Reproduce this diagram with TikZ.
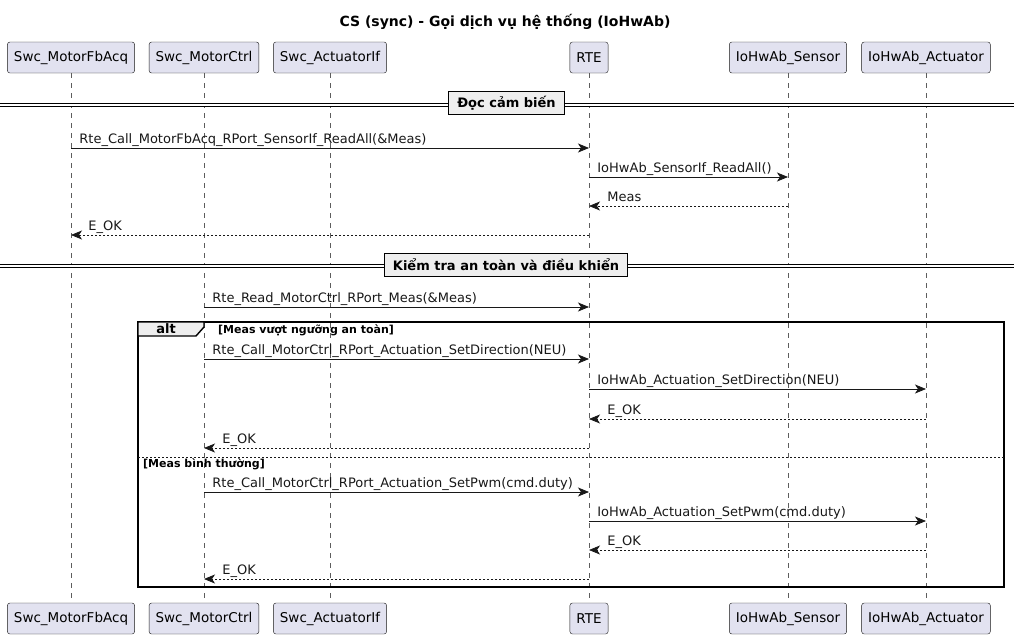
\documentclass[tikz,border=0pt]{standalone}
\usepackage{fontspec}
\setmainfont{DejaVu Sans}
\usetikzlibrary{arrows.meta}
\usetikzlibrary{positioning}

\definecolor{partfill}{HTML}{E2E2F0}
\definecolor{divfill}{HTML}{EEEEEE}
\definecolor{inkline}{HTML}{181818}

\begin{document}
\begin{tikzpicture}[x=1pt, y=-1pt,
  part/.style={rectangle, draw=inkline, fill=partfill, rounded corners=2.5pt, minimum height=31pt, inner xsep=6.5pt, font=\fontsize{13.5}{15}\selectfont},
  life/.style={inkline!70, dash pattern=on 5pt off 5pt, line width=0.6pt},
  msg/.style={inkline, line width=0.8pt, -{Stealth[length=11pt, width=9pt, inset=3pt]}},
  reply/.style={msg, dash pattern=on 2pt off 2pt},
  lbl/.style={font=\fontsize{13}{15}\selectfont, inner sep=0pt, anchor=base west},
  divbox/.style={rectangle, draw=black, line width=1.4pt, fill=divfill, inner xsep=8.5pt, minimum height=23pt, font=\bfseries\fontsize{13}{15}\selectfont},
  divline/.style={black, double, double distance=2.2pt, line width=0.9pt},
  frame/.style={black, line width=1.4pt}]
\useasboundingbox (0,0) rectangle (1020,638);

% title
\node [font=\bfseries\fontsize{14}{16}\selectfont] (title) at (505,22) {CS (sync) - Gọi dịch vụ hệ thống (IoHwAb)};

% participants, top and bottom
\node [part] (fbT) at (71,57.5) {Swc\_MotorFbAcq};
\node [part] (ctT) at (204,57.5) {Swc\_MotorCtrl};
\node [part] (aiT) at (330,57.5) {Swc\_ActuatorIf};
\node [part] (rteT) at (589,57.5) {RTE};
\node [part] (senT) at (788,57.5) {IoHwAb\_Sensor};
\node [part] (actT) at (926,57.5) {IoHwAb\_Actuator};
\node [part] (fbB) at (71,618.5) {Swc\_MotorFbAcq};
\node [part] (ctB) at (204,618.5) {Swc\_MotorCtrl};
\node [part] (aiB) at (330,618.5) {Swc\_ActuatorIf};
\node [part] (rteB) at (589,618.5) {RTE};
\node [part] (senB) at (788,618.5) {IoHwAb\_Sensor};
\node [part] (actB) at (926,618.5) {IoHwAb\_Actuator};

% lifelines
\draw [life] (fbT) -- (fbB);
\draw [life] (ctT) -- (ctB);
\draw [life] (aiT) -- (aiB);
\draw [life] (rteT) -- (rteB);
\draw [life] (senT) -- (senB);
\draw [life] (actT) -- (actB);

% divider 1
\draw [divline] (0,105) -- (1014,105);
\node [divbox] (div1) at (506.5,103) {Đọc cảm biến};

\draw [msg] (fbT |- 0,148) -- (rteT |- 0,148) node [lbl, pos=0, xshift=8pt, yshift=5pt] (m1) {Rte\_Call\_MotorFbAcq\_RPort\_SensorIf\_ReadAll(\&Meas)};
\draw [msg] (rteT |- 0,177) -- (senT |- 0,177) node [lbl, pos=0, xshift=8pt, yshift=5pt] (m2) {IoHwAb\_SensorIf\_ReadAll()};
\draw [reply] (senT |- 0,206) -- (rteT |- 0,206) node [lbl, pos=1, xshift=18pt, yshift=5pt] (m3) {Meas};
\draw [reply] (rteT |- 0,235) -- (fbT |- 0,235) node [lbl, pos=1, xshift=17pt, yshift=5pt] (m4) {E\_OK};

% divider 2
\draw [divline] (0,266) -- (1014,266);
\node [divbox] (div2) at (506,265) {Kiểm tra an toàn và điều khiển};

\draw [msg] (ctT |- 0,307) -- (rteT |- 0,307) node [lbl, pos=0, xshift=8pt, yshift=5pt] (m5) {Rte\_Read\_MotorCtrl\_RPort\_Meas(\&Meas)};

% alt frame
\draw [frame] (138,322) rectangle (1004,587);
\draw [frame, fill=divfill] (138,322) -- (204,322) -- (204,327) -- (196,336) -- (138,336) -- cycle;
\node [font=\bfseries\fontsize{13}{15}\selectfont, inner sep=0pt] (altlbl) at (166,329) {alt};
\node [font=\bfseries\fontsize{11}{13}\selectfont, inner sep=0pt, anchor=west] (g1) at (218,330) {[Meas vượt ngưỡng an toàn]};

\draw [msg] (ctT |- 0,359) -- (rteT |- 0,359) node [lbl, pos=0, xshift=8pt, yshift=5pt] (m6) {Rte\_Call\_MotorCtrl\_RPort\_Actuation\_SetDirection(NEU)};
\draw [msg] (rteT |- 0,389) -- (actT |- 0,389) node [lbl, pos=0, xshift=8pt, yshift=5pt] (m7) {IoHwAb\_Actuation\_SetDirection(NEU)};
\draw [reply] (actT |- 0,419) -- (rteT |- 0,419) node [lbl, pos=1, xshift=18pt, yshift=5pt] (m8) {E\_OK};
\draw [reply] (rteT |- 0,448) -- (ctT |- 0,448) node [lbl, pos=1, xshift=18pt, yshift=5pt] (m9) {E\_OK};

% else
\draw [inkline, line width=0.7pt, dash pattern=on 2pt off 2pt] (138,457) -- (1004,457);
\node [font=\bfseries\fontsize{11}{13}\selectfont, inner sep=0pt, anchor=west] (g2) at (143,464) {[Meas bình thường]};

\draw [msg] (ctT |- 0,492) -- (rteT |- 0,492) node [lbl, pos=0, xshift=8pt, yshift=5pt] (m10) {Rte\_Call\_MotorCtrl\_RPort\_Actuation\_SetPwm(cmd.duty)};
\draw [msg] (rteT |- 0,521) -- (actT |- 0,521) node [lbl, pos=0, xshift=8pt, yshift=5pt] (m11) {IoHwAb\_Actuation\_SetPwm(cmd.duty)};
\draw [reply] (actT |- 0,550) -- (rteT |- 0,550) node [lbl, pos=1, xshift=18pt, yshift=5pt] (m12) {E\_OK};
\draw [reply] (rteT |- 0,579) -- (ctT |- 0,579) node [lbl, pos=1, xshift=18pt, yshift=5pt] (m13) {E\_OK};
\end{tikzpicture}
\end{document}
